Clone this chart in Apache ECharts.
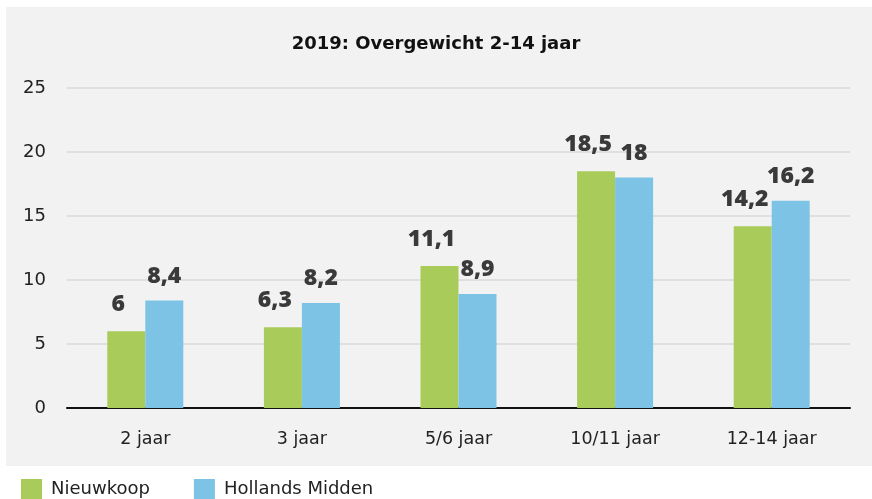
<!DOCTYPE html>
<html>
<head>
<meta charset="utf-8">
<script src="https://cdn.jsdelivr.net/npm/echarts@6/dist/echarts.min.js"></script>
<style>
  html, body { margin: 0; padding: 0; background: #fff; }
  #main { width: 872px; height: 499px; }
</style>
</head>
<body>
<div id="main"></div>
<script>
  // data
  var categories = ['2 jaar', '3 jaar', '5/6 jaar', '10/11 jaar', '12-14 jaar'];
  var nieuwkoop = [6, 6.3, 11.1, 18.5, 14.2];
  var hollandsMidden = [8.4, 8.2, 8.9, 18, 16.2];
  var yTicks = [0, 5, 10, 15, 20, 25];

  var fontMain = '"DejaVu Sans", "Noto Sans", sans-serif';

  function commaFmt(p) {
    return String(p.value).replace('.', ',');
  }

  var chart = echarts.init(document.getElementById('main'));
  chart.setOption({
    animation: false,
    backgroundColor: '#ffffff',
    textStyle: { fontFamily: fontMain },
    graphic: [{
      type: 'rect',
      z: -10,
      shape: { x: 6, y: 7, width: 866, height: 459 },
      style: { fill: '#f2f2f2' }
    }],
    title: {
      text: '2019: Overgewicht 2-14 jaar',
      left: 'center',
      top: 30,
      textStyle: { fontSize: 18, fontWeight: 'bold', color: '#111', fontFamily: fontMain }
    },
    legend: {
      left: 16,
      top: 474,
      itemWidth: 21,
      itemHeight: 21,
      itemGap: 44,
      icon: 'rect',
      textStyle: { fontSize: 18, color: '#222', fontFamily: fontMain, padding: [2, 0, 0, 4] },
      data: ['Nieuwkoop', 'Hollands Midden']
    },
    grid: { left: 67, right: 22, top: 88, bottom: 91 },
    xAxis: {
      type: 'category',
      data: categories,
      axisTick: { show: false },
      axisLine: { lineStyle: { color: '#111', width: 2 } },
      axisLabel: { fontSize: 17.5, color: '#222', margin: 22 }
    },
    yAxis: {
      type: 'value',
      min: yTicks[0],
      max: yTicks[yTicks.length - 1],
      interval: 5,
      axisLine: { show: false },
      axisTick: { show: false },
      axisLabel: { fontSize: 18, color: '#222', margin: 21 },
      splitLine: { lineStyle: { color: '#d9d9d9', width: 1.5 } }
    },
    series: [{
      name: 'Nieuwkoop',
      type: 'bar',
      data: nieuwkoop,
      barWidth: 38,
      barGap: '0%',
      itemStyle: { color: '#a9cb5a' },
      label: {
        show: true,
        position: 'top',
        distance: 15,
        offset: [-8, 0],
        formatter: commaFmt,
        fontSize: 23,
        fontWeight: 800,
        fontFamily: '"Open Sans", sans-serif',
        color: '#3a3a3a'
      }
    }, {
      name: 'Hollands Midden',
      type: 'bar',
      data: hollandsMidden,
      barWidth: 38,
      itemStyle: { color: '#7cc3e6' },
      label: {
        show: true,
        position: 'top',
        distance: 13,
        formatter: commaFmt,
        fontSize: 23,
        fontWeight: 800,
        fontFamily: '"Open Sans", sans-serif',
        color: '#3a3a3a'
      }
    }]
  });
</script>
</body>
</html>
